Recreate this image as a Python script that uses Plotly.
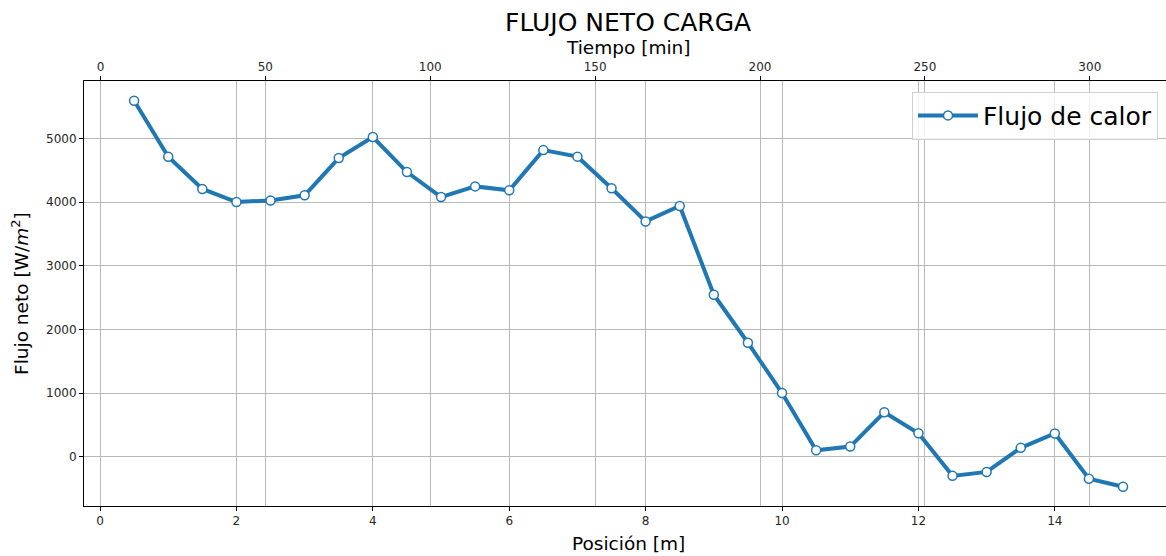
import plotly.graph_objects as go

# Data
posicion = [0.5, 1.0, 1.5, 2.0, 2.5, 3.0, 3.5, 4.0, 4.5, 5.0,
            5.5, 6.0, 6.5, 7.0, 7.5, 8.0, 8.5, 9.0, 9.5, 10.0,
            10.5, 11.0, 11.5, 12.0, 12.5, 13.0, 13.5, 14.0, 14.5, 15.0]
flujo = [5590, 4710, 4205, 4000, 4025, 4105, 4690, 5020, 4470, 4078,
         4245, 4183, 4815, 4712, 4215, 3695, 3938, 2545, 1790, 1000,
         102, 160, 698, 368, -300, -238, 140, 366, -345, -470]
x_ticks = [0, 2, 4, 6, 8, 10, 12, 14]
tiempo_ticks = [0, 50, 100, 150, 200, 250, 300]
y_ticks = [0, 1000, 2000, 3000, 4000, 5000]

BLUE = "#1f77b4"
FONT = "DejaVu Sans"
GRID = "#b8b8b8"
TXT = "#262626"

fig = go.Figure()
fig.add_trace(go.Scatter(
    x=posicion, y=flujo, mode="lines+markers", name="Flujo de calor",
    line=dict(color=BLUE, width=4),
    marker=dict(size=9, color="white", line=dict(color=BLUE, width=1.5)),
    xaxis="x", yaxis="y",
))
fig.add_trace(go.Scatter(x=[tiempo_ticks[0]], y=[None], xaxis="x2", yaxis="y",
                         showlegend=False, hoverinfo="skip"))

XC = 628 - (84 + 1082 / 2)

fig.update_layout(
    width=1166, height=556,
    margin=dict(l=84, r=0, t=81, b=50, autoexpand=False),
    paper_bgcolor="white", plot_bgcolor="white",
    font=dict(family=FONT, color=TXT, size=12),
    showlegend=True,
    legend=dict(
        x=0.9926, y=0.975, xanchor="right", yanchor="top",
        font=dict(size=25, family=FONT, color="black"),
        bgcolor="rgba(255,255,255,0.8)", bordercolor="#d0d0d0", borderwidth=1,
        itemwidth=60,
    ),
    xaxis=dict(
        range=[-0.235, 15.63], tickvals=x_ticks, ticktext=[str(v) for v in x_ticks],
        showgrid=True, gridcolor=GRID, gridwidth=1, zeroline=False,
        showline=True, linecolor="black", linewidth=1, mirror=False,
        ticks="outside", ticklen=4, tickcolor="black", automargin=False,
        tickfont=dict(size=12, family=FONT, color=TXT),
    ),
    xaxis2=dict(
        range=[-5.0, 323.1], overlaying="x", side="top", anchor="y",
        tickvals=tiempo_ticks, ticktext=[str(v) for v in tiempo_ticks],
        showgrid=True, gridcolor=GRID, gridwidth=1, zeroline=False,
        showline=True, linecolor="black", linewidth=1,
        ticks="outside", ticklen=4, tickcolor="black", automargin=False,
        tickfont=dict(size=12, family=FONT, color=TXT),
    ),
    yaxis=dict(
        range=[-773, 5900], tickvals=y_ticks, ticktext=[str(v) for v in y_ticks],
        showgrid=True, gridcolor=GRID, gridwidth=1, zeroline=False,
        showline=True, linecolor="black", linewidth=1,
        ticks="outside", ticklen=4, tickcolor="black", automargin=False,
        tickfont=dict(size=12, family=FONT, color=TXT),
    ),
    annotations=[
        dict(text="FLUJO NETO CARGA", xref="paper", yref="paper", x=0.5, y=1,
             xanchor="center", yanchor="middle", yshift=59, showarrow=False,
             xshift=XC, font=dict(size=25, family=FONT, color="black")),
        dict(text="Tiempo [min]", xref="paper", yref="paper", x=0.5, y=1,
             xanchor="center", yanchor="middle", yshift=34, showarrow=False,
             xshift=XC, font=dict(size=18.5, family=FONT, color="black")),
        dict(text="Posición [m]", xref="paper", yref="paper", x=0.5, y=0,
             xanchor="center", yanchor="middle", yshift=-37, showarrow=False,
             xshift=XC, font=dict(size=18.5, family=FONT, color="black")),
        dict(text="Flujo neto [W/<i>m</i><sup>2</sup>]", xref="paper", yref="paper",
             x=0, y=0.5, xanchor="center", yanchor="middle", xshift=-64,
             yshift=(506 - 81) / 2 - (506 - 293), textangle=-90, showarrow=False,
             font=dict(size=18.5, family=FONT, color="black")),
    ],
)

fig.write_html("out.html", config={"displayModeBar": False},
               post_script="document.body.style.margin='0';document.body.style.overflow='hidden';")
